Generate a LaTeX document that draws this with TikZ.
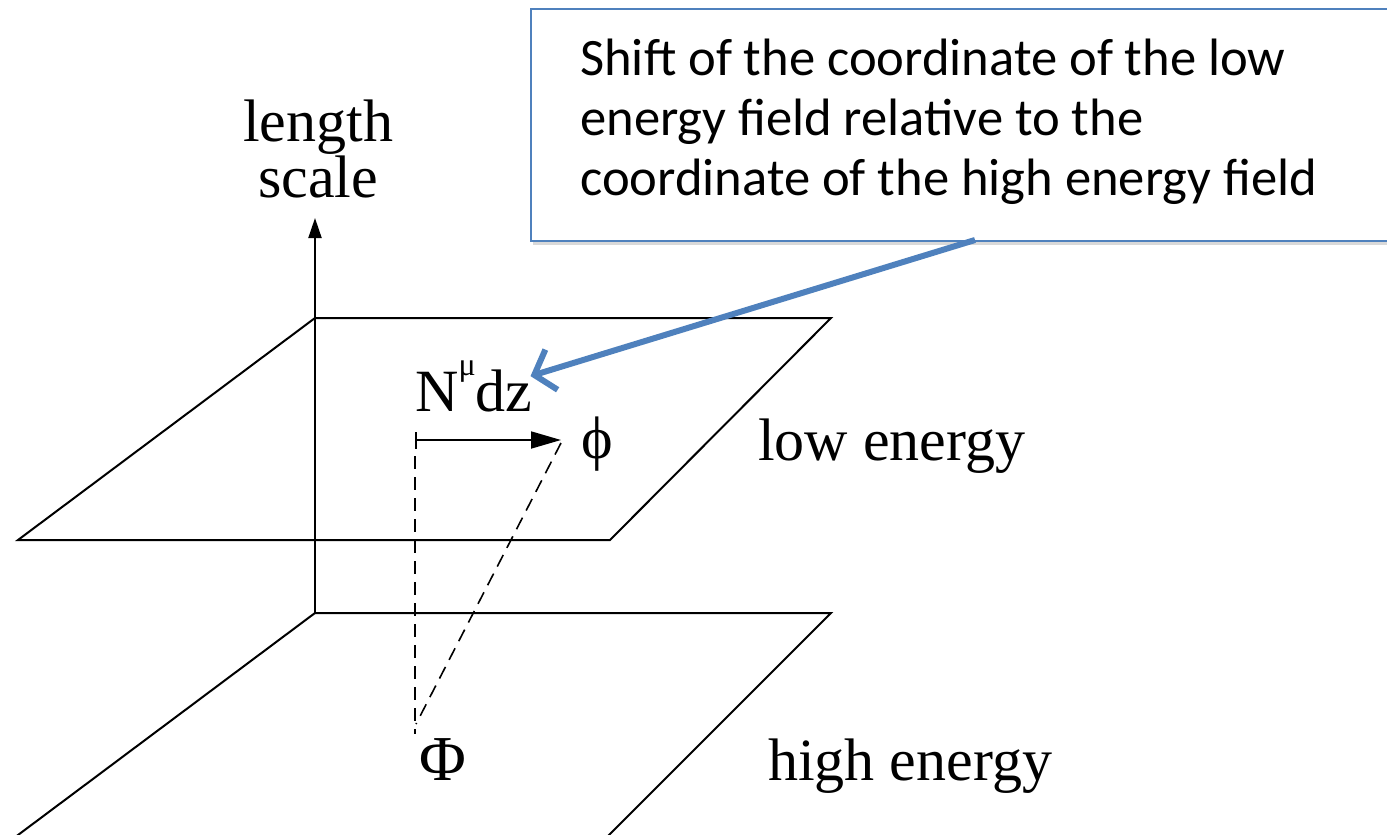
\documentclass[tikz,border=0pt]{standalone}
\usepackage{fontspec}
\setmainfont{Liberation Serif}
\newfontfamily\calibri{Carlito}
\usetikzlibrary{arrows.meta,shadows}
\definecolor{callblue}{RGB}{79,129,189}
\begin{document}
\begin{tikzpicture}[x=1pt,y=-1pt,
  plane/.style={draw=black,line width=2pt,line join=miter},
  dashline/.style={draw=black,line width=1.6pt,dash pattern=on 13pt off 8pt},
  bigtext/.style={font=\fontsize{60}{53}\selectfont,inner sep=0pt},
  calloutbox/.style={draw=callblue,line width=1.8pt,fill=white,
    drop shadow={shadow xshift=2pt,shadow yshift=-4pt,opacity=0.25,fill=black!60}},
  calltext/.style={font=\calibri\fontsize{52.6}{60}\selectfont,align=left,inner sep=0pt}
]
\useasboundingbox (0,0) rectangle (1387,835);
\clip (0,0) rectangle (1387,835);
% upper (low energy) plane
\coordinate (u1) at (18,540);
\coordinate (u2) at (315,318);
\coordinate (u3) at (831,318);
\coordinate (u4) at (610,540);
\draw[plane] (u1) -- (u2) -- (u3) -- (u4) -- cycle;
% lower (high energy) plane
\coordinate (l1) at (14,838);
\coordinate (l2) at (315,613);
\coordinate (l3) at (831,613);
\coordinate (l4) at (606,838);
\draw[plane] (l1) -- (l2) -- (l3) -- (l4) -- cycle;
% axis
\coordinate (axtop) at (315,218);
\draw[line width=2pt,-{Triangle[length=20pt,width=13pt]}] (l2) -- (axtop);
\node[bigtext,align=center,anchor=base] (ylabel) at (318,197) {length\\scale};
% shift arrow
\coordinate (sstart) at (415,440);
\coordinate (phipt) at (561,440);
\draw[line width=1.8pt,{Bar[width=17pt]}-{Triangle[length=30pt,width=17pt]}] (sstart) -- (phipt);
\coordinate (vtop) at (415,456);
\coordinate (Phipt) at (415,734);
\coordinate (dtop) at (561,443);
\coordinate (dbot) at (416,724);
\draw[dashline] (vtop) -- (Phipt);
\draw[dashline] (dtop) -- (dbot);
% labels
\node[bigtext,anchor=base west] (ndz) at (415,411) {N\raisebox{0.6em}{\fontsize{32}{32}\selectfont μ}dz};
\node[bigtext,anchor=base west] (phi) at (581,458) {ϕ};
\node[bigtext,anchor=base west] (Phi) at (419,780) {\fontsize{64}{64}\selectfont Φ};
\node[bigtext,anchor=base west] (low) at (758,460) {low energy};
\node[bigtext,anchor=base west] (high) at (768,780) {high energy};
% callout
\node[calloutbox,minimum width=880pt,minimum height=232pt,anchor=north west] (box) at (530,8) {};
\node[calltext,anchor=base west] (boxtext) at (580,195) {Shift of the coordinate of the low\\energy field relative to the\\coordinate of the high energy field};
\coordinate (boxfoot) at (975,240);
\draw[draw=callblue,line width=6pt,-{Straight Barb[length=18pt,width=42pt,line width=6pt]}] (boxfoot) -- ([xshift=-2pt,yshift=-16pt]ndz.north east);
\end{tikzpicture}
\end{document}
